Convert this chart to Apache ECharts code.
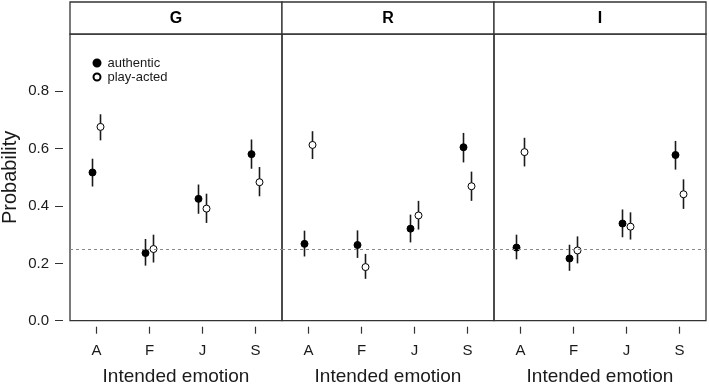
<!DOCTYPE html>
<html>
<head>
<meta charset="utf-8">
<script src="https://cdn.jsdelivr.net/npm/echarts@6/dist/echarts.min.js"></script>
<style>
  html, body { margin: 0; padding: 0; background: #fff; }
  #chart { width: 709px; height: 387px; }
</style>
</head>
<body>
<div id="chart"></div>
<script>
const panels = ['G', 'R', 'I'];
const categories = ['A', 'F', 'J', 'S'];
const yTicks = [0, 0.2, 0.4, 0.6, 0.8];
const chanceLevel = 0.25;

// one row per panel (G, R, I), one value per category (A, F, J, S)
const authenticMean = [
  [0.517, 0.236, 0.425, 0.581],
  [0.268, 0.264, 0.321, 0.605],
  [0.255, 0.217, 0.339, 0.578]
];
const authenticLow = [
  [0.468, 0.192, 0.373, 0.530],
  [0.224, 0.219, 0.273, 0.552],
  [0.214, 0.174, 0.291, 0.527]
];
const authenticHigh = [
  [0.565, 0.285, 0.475, 0.632],
  [0.314, 0.315, 0.370, 0.655],
  [0.300, 0.265, 0.388, 0.627]
];
const actedMean = [
  [0.676, 0.250, 0.391, 0.483],
  [0.613, 0.187, 0.367, 0.469],
  [0.588, 0.245, 0.328, 0.441]
];
const actedLow = [
  [0.629, 0.203, 0.341, 0.434],
  [0.564, 0.146, 0.318, 0.418],
  [0.538, 0.200, 0.283, 0.390]
];
const actedHigh = [
  [0.720, 0.300, 0.443, 0.536],
  [0.661, 0.233, 0.418, 0.520],
  [0.638, 0.294, 0.378, 0.493]
];

const FONT = '"Liberation Sans", Arial, sans-serif';
const LEFT = 70, PW = 212, TOP = 34, PH = 286.7, STRIP_TOP = 2;
const OFF = 4;
const catIdx = categories.map((c, i) => i);

const chart = echarts.init(document.getElementById('chart'));

function errorBars(p, lows, highs, off, withChanceLine) {
  return {
    type: 'custom',
    xAxisIndex: p,
    yAxisIndex: p,
    z: 1,
    silent: true,
    encode: { x: 0, y: [1, 2] },
    data: lows.map((l, i) => [i, l, highs[i]]),
    renderItem(params, api) {
      const a = api.coord([api.value(0), api.value(1)]);
      const b = api.coord([api.value(0), api.value(2)]);
      return {
        type: 'line',
        shape: { x1: a[0] + off, y1: a[1], x2: b[0] + off, y2: b[1] },
        style: { stroke: '#1a1a1a', lineWidth: 1.6 }
      };
    },
    markLine: {
      silent: true,
      symbol: 'none',
      label: { show: false },
      lineStyle: { color: '#8a8a8a', type: [3, 3], width: 1 },
      data: withChanceLine ? [{ yAxis: chanceLevel }] : []
    }
  };
}

const grid = [], xAxis = [], yAxis = [], series = [], graphic = [];

panels.forEach((name, p) => {
  const x0 = LEFT + p * PW;
  grid.push({
    left: x0, top: TOP, width: PW, height: PH,
    outerBoundsMode: 'none',
    containLabel: false,
    show: true, borderColor: '#333', borderWidth: 1.3, backgroundColor: 'transparent'
  });
  xAxis.push({
    type: 'value',
    gridIndex: p,
    position: 'bottom',
    min: -0.5,
    max: categories.length - 0.5,
    offset: 6,
    splitLine: { show: false },
    axisLine: { show: false, onZero: false },
    axisTick: { show: false },
    axisLabel: {
      margin: 17, customValues: catIdx, fontFamily: FONT, fontSize: 15, color: '#1a1a1a',
      formatter: v => categories[Math.round(v)]
    },
    name: 'Intended emotion',
    nameLocation: 'middle',
    nameGap: 41,
    nameTextStyle: { fontFamily: FONT, fontSize: 19, color: '#1a1a1a' }
  });
  yAxis.push({
    type: 'value',
    gridIndex: p,
    position: 'left',
    min: 0,
    max: 1,
    interval: 0.2,
    show: p === 0,
    offset: 7,
    splitLine: { show: false },
    axisLine: { show: false, onZero: false },
    axisTick: { show: true, length: 8, customValues: yTicks, lineStyle: { color: '#333', width: 1 } },
    axisLabel: {
      margin: 14, customValues: yTicks, fontFamily: FONT, fontSize: 15, color: '#1a1a1a',
      formatter: v => v.toFixed(1)
    },
    name: 'Probability',
    nameLocation: 'middle',
    nameGap: 43,
    nameTextStyle: { fontFamily: FONT, fontSize: 20, color: '#1a1a1a' }
  });

  series.push(errorBars(p, authenticLow[p], authenticHigh[p], -OFF, true));
  series.push(errorBars(p, actedLow[p], actedHigh[p], OFF, false));
  series.push({
    name: 'authentic',
    type: 'scatter',
    xAxisIndex: p, yAxisIndex: p, z: 3,
    symbol: 'circle', symbolSize: 7, symbolOffset: [-OFF, 0],
    itemStyle: { color: '#000', borderColor: '#000', borderWidth: 1, opacity: 1 },
    data: authenticMean[p].map((v, i) => [i, v])
  });
  series.push({
    name: 'play-acted',
    type: 'scatter',
    xAxisIndex: p, yAxisIndex: p, z: 3,
    symbol: 'circle', symbolSize: 7, symbolOffset: [OFF, 0],
    itemStyle: { color: '#fff', borderColor: '#000', borderWidth: 1, opacity: 1 },
    data: actedMean[p].map((v, i) => [i, v])
  });

  graphic.push({
    type: 'rect',
    shape: { x: x0, y: STRIP_TOP, width: PW, height: TOP - STRIP_TOP },
    style: { fill: '#fff', stroke: '#333', lineWidth: 1.3 }
  });
  graphic.push({
    type: 'text',
    x: x0 + PW / 2,
    y: (STRIP_TOP + TOP) / 2 + 1,
    style: {
      text: name, fontFamily: FONT, fontSize: 16, fontWeight: 'bold', fill: '#000',
      textAlign: 'center', textVerticalAlign: 'middle'
    }
  });
});

chart.setOption({
  animation: false,
  backgroundColor: '#fff',
  textStyle: { fontFamily: FONT },
  grid,
  xAxis,
  yAxis,
  series,
  graphic,
  legend: {
    data: ['authentic', 'play-acted'],
    orient: 'vertical',
    left: 92.5,
    top: 56.5,
    padding: 0,
    itemGap: 1,
    itemWidth: 7,
    itemHeight: 7,
    selectedMode: false,
    textStyle: { fontFamily: FONT, fontSize: 13, lineHeight: 13, color: '#1a1a1a', padding: [0, 0, 0, 2] }
  }
});

// R-style category ticks hanging under each panel, placed through the axis scale
const tickMarks = [];
panels.forEach((name, p) => {
  catIdx.forEach(i => {
    const pt = chart.convertToPixel({ gridIndex: p }, [i, 0]);
    tickMarks.push({
      type: 'line',
      z: 100,
      silent: true,
      shape: { x1: pt[0], y1: pt[1] + 6, x2: pt[0], y2: pt[1] + 13 },
      style: { stroke: '#333', lineWidth: 1.2 }
    });
  });
});
chart.setOption({ graphic: graphic.concat(tickMarks) });
</script>
</body>
</html>
